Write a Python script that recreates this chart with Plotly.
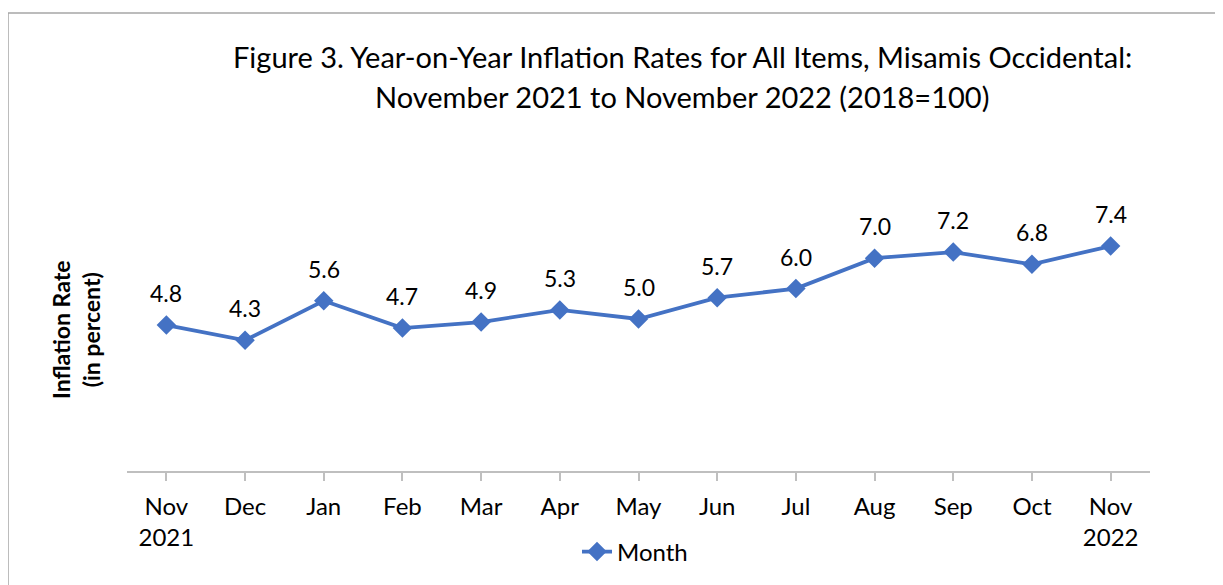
import plotly.graph_objects as go

months = ["Nov<br>2021", "Dec", "Jan", "Feb", "Mar", "Apr", "May", "Jun", "Jul",
          "Aug", "Sep", "Oct", "Nov<br>2022"]
rates = [4.8, 4.3, 5.6, 4.7, 4.9, 5.3, 5.0, 5.7, 6.0, 7.0, 7.2, 6.8, 7.4]
labels = [f"{v:.1f}" for v in rates]
title_lines = ["Figure 3. Year-on-Year Inflation Rates for All Items, Misamis Occidental:",
               "November 2021 to November 2022 (2018=100)"]

W, H = 1223, 585
OFF = 8  # page body margin offset
# target (reference) pixel positions
PL, PR, PT, PB = 127, 1150, 167, 471
L, T = PL - OFF, PT - OFF
R = W - (PR - OFF)
B = H - (PB - OFF)
pw, ph = W - L - R, H - T - B

def px(x):
    return (x - OFF - L) / pw

def py(y):
    return (H - B - (y - OFF)) / ph

FONT = "Lato"
BLUE = "#4472C4"

fig = go.Figure()
fig.add_trace(go.Scatter(
    x=list(range(len(months))), y=rates, mode="lines+markers",
    name="Month",
    line=dict(color=BLUE, width=3.8),
    marker=dict(symbol="diamond", size=15, color=BLUE),
    cliponaxis=False,
))

annotations = [dict(
    x=i, y=v, text=t, xref="x", yref="y", showarrow=False,
    yshift=32, xanchor="center", yanchor="middle",
    font=dict(family=FONT, size=23, color="#000000"),
) for i, (v, t) in enumerate(zip(rates, labels))]

annotations.append(dict(
    text="<b>Inflation Rate<br>(in percent)</b>", xref="paper", yref="paper",
    x=px(76), y=py(330), xanchor="center", yanchor="middle", textangle=-90,
    showarrow=False, font=dict(family=FONT, size=23, color="#000000"),
))

for line, yc in zip(title_lines, [57, 96]):
    annotations.append(dict(
        text=line, xref="paper", yref="paper", x=px(682), y=py(yc),
        xanchor="center", yanchor="middle", showarrow=False,
        font=dict(family=FONT, size=29, color="#000000"),
    ))

fig.update_layout(
    width=W, height=H,
    margin=dict(l=L, r=R, t=T, b=B),
    plot_bgcolor="white", paper_bgcolor="white",
    font=dict(family=FONT, color="#000000"),
    showlegend=True,
    legend=dict(orientation="h", x=px(635), xanchor="center", y=py(552), yanchor="middle",
                font=dict(family=FONT, size=24, color="#000000"), bgcolor="rgba(0,0,0,0)"),
    xaxis=dict(
        tickmode="array", tickvals=list(range(len(months))), ticktext=months,
        range=[-0.5, len(months) - 0.5],
        showline=True, linecolor="#bfbfbf", linewidth=1.5,
        ticks="outside", tickson="boundaries", ticklen=8, tickcolor="#bfbfbf", tickwidth=1.5,
        ticklabelstandoff=5,
        showgrid=False, zeroline=False,
        tickfont=dict(family=FONT, size=24, color="#000000"),
    ),
    yaxis=dict(range=[0, 10], showticklabels=False, showgrid=False, zeroline=False,
               showline=False, ticks=""),
    shapes=[dict(type="rect", xref="paper", yref="paper",
                 x0=px(8), x1=px(1260), y0=py(620), y1=py(13),
                 line=dict(color="#a6a6a6", width=1.5), fillcolor="rgba(0,0,0,0)", layer="below")],
    annotations=annotations,
)

fig.write_html("out.html")
